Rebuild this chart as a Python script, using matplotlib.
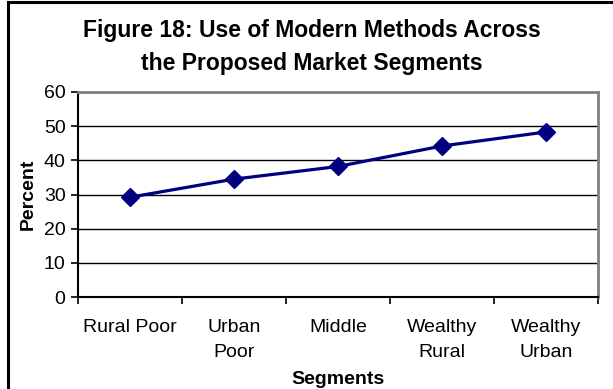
import matplotlib
matplotlib.use("Agg")
import matplotlib.pyplot as plt
from matplotlib.lines import Line2D
import numpy as np

plt.rcParams['font.family'] = ['Liberation Sans', 'DejaVu Sans']

segments = ["Rural Poor", "Urban\nPoor", "Middle", "Wealthy\nRural", "Wealthy\nUrban"]
percent = [29.2, 34.5, 38.2, 44.2, 48.3]
yticks = [0, 10, 20, 30, 40, 50, 60]

W, H = 613, 389
fig = plt.figure(figsize=(W / 100, H / 100), dpi=100)
ax = fig.add_axes([78 / W, 92 / H, 520 / W, 205 / H])

x = np.arange(len(segments))
ax.plot(x, percent, color="#000080", lw=2.3, marker="D", ms=9.5,
        mfc="#000080", mec="#000080", zorder=3, clip_on=False)

ax.set_xlim(-0.5, len(segments) - 0.5)
ax.set_ylim(0, 60)
ax.set_yticks(yticks)
ax.tick_params(axis="y", length=5, width=1.2, labelsize=14, pad=4)

# category labels sit between the boundary ticks
ax.set_xticks(np.arange(-0.5, len(segments)), minor=False)
ax.set_xticklabels([])
ax.set_xticks(x, minor=True)
ax.set_xticklabels(segments, minor=True, fontsize=14, linespacing=1.6)
ax.tick_params(axis="x", which="major", length=5, width=1.2)
ax.tick_params(axis="x", which="minor", length=0, pad=16)

for v in yticks[1:-1]:
    ax.axhline(v, color="black", lw=1, zorder=1)

for s in ["left", "bottom"]:
    ax.spines[s].set_linewidth(1.5)
for s in ["top", "right"]:
    ax.spines[s].set_color("#808080")
    ax.spines[s].set_linewidth(2)

ax.set_ylabel("Percent", fontsize=14, fontweight="bold", labelpad=5)
ax.set_xlabel("Segments", fontsize=14, fontweight="bold", labelpad=7)

fig.text(0.508, 1 - 19 / H, "Figure 18: Use of Modern Methods Across\nthe Proposed Market Segments",
         ha="center", va="top", fontsize=16.5, fontweight="bold", linespacing=1.55)

# outer chart frame (left and top edges)
fig.add_artist(Line2D([7.5 / W, 7.5 / W], [0, 1 - 2 / H], color="black", lw=2.2))
fig.add_artist(Line2D([7.5 / W, 1], [1 - 2 / H, 1 - 2 / H], color="black", lw=2.2))

fig.savefig("out.png", dpi=100)
